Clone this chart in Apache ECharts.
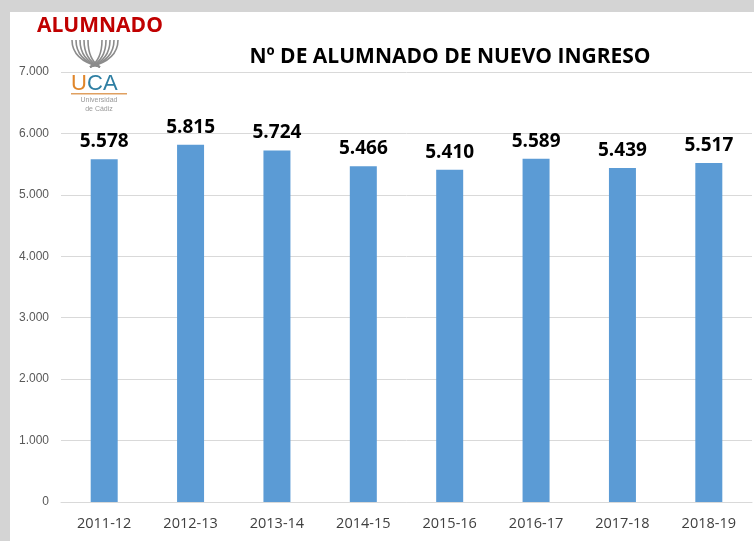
<!DOCTYPE html>
<html>
<head>
<meta charset="utf-8">
<script src="https://cdn.jsdelivr.net/npm/echarts@6/dist/echarts.min.js"></script>
<style>
  html, body { margin: 0; padding: 0; background: #d4d4d4; }
  #main { position: absolute; left: 10px; top: 12px; width: 744px; height: 529px; background: #fff; }
</style>
</head>
<body>
<div id="main"></div>
<script>
// cursos academicos y alumnado de nuevo ingreso
const cursos = ['2011-12', '2012-13', '2013-14', '2014-15', '2015-16', '2016-17', '2017-18', '2018-19']
const alumnos = [5578, 5815, 5724, 5466, 5410, 5589, 5439, 5517]
const yTicks = [0, 1000, 2000, 3000, 4000, 5000, 6000, 7000]

// 5578 -> 5.578
function miles(v) {
  return String(v).replace(/\B(?=(\d{3})+(?!\d))/g, '.')
}

const chart = echarts.init(document.getElementById('main'))

// logo UCA (aprox.) -- coords relativas al div (left 10, top 12)
const fan = []
for (let i = 0; i < 5; i++) {
  const dx = i * 4
  fan.push({
    type: 'bezierCurve',
    shape: { x1: 62 + dx, y1: 28, x2: 90, y2: 55, cpx1: 62 + dx, cpy1: 48 },
    style: { stroke: '#8c8c8c', lineWidth: 1.6, fill: null }
  })
  fan.push({
    type: 'bezierCurve',
    shape: { x1: 108 - dx, y1: 28, x2: 80, y2: 55, cpx1: 108 - dx, cpy1: 48 },
    style: { stroke: '#8c8c8c', lineWidth: 1.6, fill: null }
  })
}

chart.setOption({
  animation: false,
  title: {
    text: 'Nº DE ALUMNADO DE NUEVO INGRESO',
    left: 435,
    textAlign: 'center',
    top: 30,
    textStyle: { fontFamily: 'Open Sans', fontWeight: 'bold', fontSize: 21, color: '#000' }
  },
  graphic: [
    {
      type: 'text', left: 27, top: 4,
      style: { text: 'ALUMNADO', fill: '#c00000', font: 'bold 21px "Open Sans"' }
    },
    { type: 'rect', shape: { x: 58, y: 24, width: 60, height: 76 }, style: { fill: '#fff' } },
    ...fan,
    {
      type: 'text', x: 61, y: 61,
      style: { text: 'U', fill: '#e0862a', font: '22px "Liberation Sans"' }
    },
    {
      type: 'text', x: 77, y: 61,
      style: { text: 'CA', fill: '#2f7fa3', font: '22px "Liberation Sans"' }
    },
    { type: 'rect', shape: { x: 61, y: 81, width: 56, height: 1.5 }, style: { fill: '#e0a060' } },
    {
      type: 'text', x: 89, y: 84,
      style: { text: 'Universidad\nde Cádiz', fill: '#999', font: '7px "Liberation Sans"', align: 'center', lineHeight: 9 }
    }
  ],
  grid: { left: 51, right: 2, top: 60, bottom: 39 },
  xAxis: {
    type: 'category',
    data: cursos,
    axisTick: { show: false },
    axisLine: { lineStyle: { color: '#d9d9d9' } },
    axisLabel: { color: '#404040', fontSize: 14.5, margin: 14, fontFamily: 'Open Sans' }
  },
  yAxis: {
    type: 'value',
    min: yTicks[0],
    max: yTicks[yTicks.length - 1],
    interval: 1000,
    axisLabel: { color: '#595959', fontSize: 12, margin: 12, formatter: miles },
    splitLine: { lineStyle: { color: '#d9d9d9' } }
  },
  series: [
    {
      type: 'bar',
      data: alumnos,
      barWidth: 27,
      itemStyle: { color: '#5b9bd5' },
      label: {
        show: true,
        position: 'top',
        distance: 8,
        formatter: p => miles(p.value),
        color: '#000',
        fontSize: 19,
        fontWeight: 'bold',
        fontFamily: 'Open Sans'
      }
    }
  ]
})
</script>
</body>
</html>
